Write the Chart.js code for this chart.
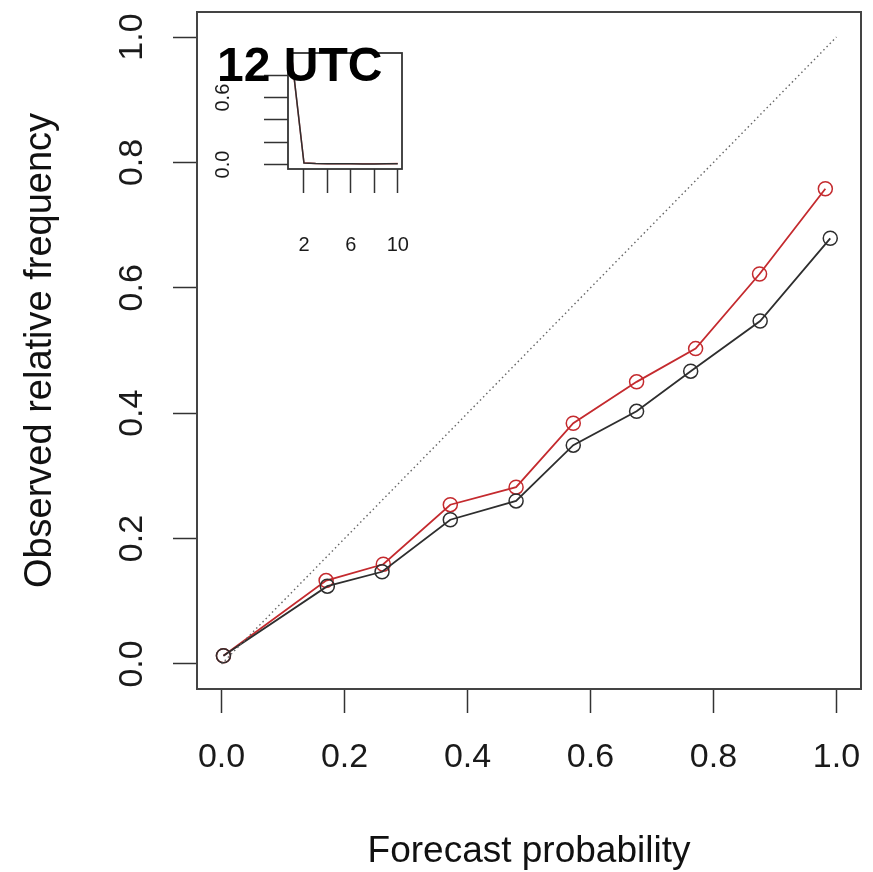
<!DOCTYPE html>
<html><head><meta charset="utf-8">
<script src="https://cdn.jsdelivr.net/npm/chart.js@4/dist/chart.umd.min.js"></script>
<style>
html,body{margin:0;padding:0;background:#fff;}
#wrap{position:relative;width:873px;height:872px;overflow:hidden;}
#main{position:absolute;left:0;top:0;}
#inset{position:absolute;left:200px;top:30px;}
#lbl{position:absolute;left:217px;top:41px;font:bold 48px "Liberation Sans",Arial,sans-serif;line-height:48px;color:#000;white-space:nowrap;}
</style></head><body>
<div id="wrap">
<canvas id="main" width="873" height="872"></canvas>
<canvas id="inset" width="220" height="230"></canvas>
<div id="lbl">12 UTC</div>
</div>
<script>
// Reliability diagram data
const probBlack = [0.003, 0.172, 0.261, 0.372, 0.479, 0.572, 0.675, 0.763, 0.876, 0.990];
const obsBlack  = [0.013, 0.124, 0.147, 0.230, 0.260, 0.349, 0.403, 0.467, 0.547, 0.679];
const probRed   = [0.003, 0.170, 0.263, 0.372, 0.479, 0.572, 0.675, 0.771, 0.875, 0.982];
const obsRed    = [0.013, 0.133, 0.159, 0.254, 0.282, 0.384, 0.450, 0.503, 0.622, 0.758];
const diagX = [0, 1];
const diagY = [0, 1];
const xTicks = [0, 0.2, 0.4, 0.6, 0.8, 1.0];
const yTicks = [0, 0.2, 0.4, 0.6, 0.8, 1.0];

// Inset (sharpness) data
const insetBins = [1, 2, 3, 4, 5, 6, 7, 8, 9, 10];
const insetBlack = [0.93, 0.014, 0.009, 0.007, 0.006, 0.006, 0.005, 0.005, 0.006, 0.008];
const insetRed   = [0.92, 0.016, 0.010, 0.008, 0.007, 0.006, 0.006, 0.006, 0.007, 0.009];
const insetXTicks = [2, 4, 6, 8, 10];
const insetXLabels = ['2', '', '6', '', '10'];
const insetYTicks = [0, 0.2, 0.4, 0.6, 0.8];
const insetYLabels = ['0.0', '', '', '0.6', ''];

const FONT = '"Liberation Sans", Arial, Helvetica, sans-serif';
const BLACK = '#2e2e2e';
const RED = '#c42a2e';

const pts = (xs, ys) => xs.map((x, i) => ({x: x, y: ys[i]}));

const framePlugin = (lw, color) => ({
  id: 'frame',
  afterDraw(chart) {
    const a = chart.chartArea, c = chart.ctx;
    c.save();
    c.strokeStyle = color; c.lineWidth = lw;
    c.strokeRect(a.left, a.top, a.right - a.left, a.bottom - a.top);
    c.restore();
  }
});

const noPad = s => { s.paddingTop = 0; s.paddingBottom = 0; s.paddingLeft = 0; s.paddingRight = 0; };

Chart.defaults.font.family = FONT;

new Chart(document.getElementById('main'), {
  type: 'line',
  data: {
    datasets: [
      {data: pts(diagX, diagY), borderColor: '#666', borderWidth: 1.4, borderDash: [1.5, 3], pointRadius: 0, fill: false},
      {data: pts(probBlack, obsBlack), borderColor: BLACK, borderWidth: 1.8, pointRadius: 7, pointBorderWidth: 1.5,
       pointBorderColor: BLACK, pointBackgroundColor: 'rgba(0,0,0,0)', fill: false, tension: 0},
      {data: pts(probRed, obsRed), borderColor: RED, borderWidth: 1.8, pointRadius: 7, pointBorderWidth: 1.5,
       pointBorderColor: RED, pointBackgroundColor: 'rgba(0,0,0,0)', fill: false, tension: 0}
    ]
  },
  options: {
    responsive: false, animation: false, devicePixelRatio: 1,
    layout: {padding: {left: 0, right: 12, top: 12, bottom: 0}},
    plugins: {legend: {display: false}, tooltip: {enabled: false}},
    scales: {
      x: {
        type: 'linear', min: -0.04, max: 1.04,
        afterBuildTicks: s => { s.ticks = xTicks.map(v => ({value: v})); },
        afterFit: s => { s.height = 183; noPad(s); },
        ticks: {callback: v => Number(v).toFixed(1), font: {size: 34}, color: '#1a1a1a', padding: 24, maxRotation: 0, autoSkip: false},
        grid: {drawOnChartArea: false, drawTicks: true, tickLength: 24, tickColor: '#333', tickWidth: 1.5},
        border: {display: false},
        title: {display: true, text: 'Forecast probability', font: {size: 37}, color: '#111', padding: {top: 0, bottom: -2}}
      },
      y: {
        type: 'linear', min: -0.04, max: 1.04,
        afterBuildTicks: s => { s.ticks = yTicks.map(v => ({value: v})); },
        afterFit: s => { s.width = 197; noPad(s); },
        ticks: {callback: v => Number(v).toFixed(1), font: {size: 34}, color: '#1a1a1a', padding: 17, minRotation: 90, maxRotation: 90, crossAlign: 'center', autoSkip: false},
        grid: {drawOnChartArea: false, drawTicks: true, tickLength: 24, tickColor: '#333', tickWidth: 1.5},
        border: {display: false},
        title: {display: true, text: 'Observed relative frequency', font: {size: 38}, color: '#111', padding: {top: 17.5, bottom: 0}}
      }
    }
  },
  plugins: [framePlugin(2, '#444')]
});

new Chart(document.getElementById('inset'), {
  type: 'line',
  data: {
    datasets: [
      {data: pts(insetBins, insetBlack), borderColor: BLACK, borderWidth: 1.5, pointRadius: 0, fill: false, tension: 0},
      {data: pts(insetBins, insetRed), borderColor: 'rgba(196,42,46,0.75)', borderWidth: 1.5, pointRadius: 0, fill: false, tension: 0}
    ]
  },
  options: {
    responsive: false, animation: false, devicePixelRatio: 1,
    layout: {padding: {left: 0, right: 18, top: 23, bottom: 0}},
    plugins: {legend: {display: false}, tooltip: {enabled: false}},
    scales: {
      x: {
        type: 'linear', min: 0.64, max: 10.36,
        afterBuildTicks: s => { s.ticks = insetXTicks.map(v => ({value: v})); },
        afterFit: s => { s.height = 91; noPad(s); },
        ticks: {callback: (v, i) => insetXLabels[i], font: {size: 20}, color: '#1a1a1a', padding: 40, maxRotation: 0, autoSkip: false},
        grid: {drawOnChartArea: false, drawTicks: true, tickLength: 24, tickColor: '#333', tickWidth: 1.5},
        border: {display: false}
      },
      y: {
        type: 'linear', min: -0.04, max: 1.0,
        afterBuildTicks: s => { s.ticks = insetYTicks.map(v => ({value: v})); },
        afterFit: s => { s.width = 88; noPad(s); },
        ticks: {callback: (v, i) => insetYLabels[i], font: {size: 20}, color: '#1a1a1a', padding: 27, minRotation: 90, maxRotation: 90, crossAlign: 'center', autoSkip: false},
        grid: {drawOnChartArea: false, drawTicks: true, tickLength: 24, tickColor: '#333', tickWidth: 1.5},
        border: {display: false}
      }
    }
  },
  plugins: [framePlugin(1.8, '#333')]
});
</script>
</body></html>
